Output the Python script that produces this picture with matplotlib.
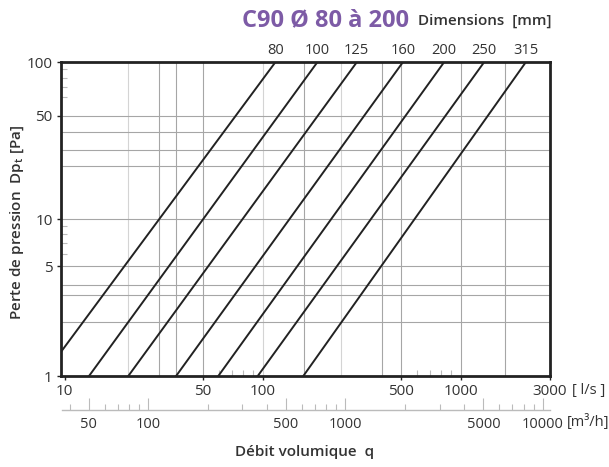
import matplotlib
matplotlib.use("Agg")
import matplotlib.pyplot as plt
import matplotlib.transforms as mtransforms

plt.rcParams['font.family'] = ['Open Sans', 'DejaVu Sans']

# diameters [mm] and flow [l/s] where each line reaches 1 Pa and 100 Pa
diameters = [80, 100, 125, 160, 200, 250, 315]
q_at_1pa = [7.8, 13.3, 21.0, 36.6, 59.8, 94.6, 160.7]
q_at_100pa = [116, 189, 299, 511, 825, 1314, 2134]
dp_ends = [1, 100]

# grid lines as drawn on the chart
vgrid_dark = [30, 36.7, 50, 162, 400, 500, 1000, 1680]
vgrid_light = [20.9, 100, 250]
hgrid = [2.22, 3.27, 3.81, 5, 10, 21.8, 27.8, 36.1, 45.5]

x_ticks = [10, 50, 100, 500, 1000, 2830]
x_labels = ['10', '50', '100', '500', '1000', '3000']
y_ticks = [1, 5, 10, 45.5, 100]
y_labels = ['1', '5', '10', '50', '100']

m3h_major = [50, 100, 500, 1000, 5000, 10000]
m3h_minor = [40, 60, 70, 80, 90, 200, 300, 400, 600, 700, 800, 900,
             2000, 3000, 4000, 6000, 7000, 8000, 9000]

W, H = 609, 467
fig = plt.figure(figsize=(W / 100, H / 100), dpi=100)
ax = fig.add_axes([61 / W, (H - 376) / H, 489 / W, 313.7 / H])
ax.set_xscale('log')
ax.set_yscale('log')
ax.set_xlim(9.6, 2830)
ax.set_ylim(1, 100)

for v in vgrid_dark:
    ax.axvline(v, color='#a6a6a6', lw=0.8, zorder=1)
for v in vgrid_light:
    ax.axvline(v, color='#d4d4d4', lw=0.8, zorder=1)
for v in hgrid:
    ax.axhline(v, color='#a6a6a6', lw=0.8, zorder=1)

trans = mtransforms.blended_transform_factory(ax.transData, ax.transAxes)
for d, q1, q2 in zip(diameters, q_at_1pa, q_at_100pa):
    ax.plot([q1, q2], dp_ends, color='#222222', lw=1.4, zorder=3)
    ax.text(q2, 1.038, str(d), transform=trans, ha='center', va='center',
            fontsize=10.5, color='#333333')

for s in ax.spines.values():
    s.set_linewidth(2)
    s.set_color('#222222')
    s.set_zorder(4)

ax.set_xticks(x_ticks)
ax.set_xticklabels(x_labels)
ax.set_yticks(y_ticks)
ax.set_yticklabels(y_labels)
ax.set_xticks([60, 70, 80, 90, 600, 700, 800, 900], minor=True)
ax.set_xticklabels([], minor=True)
ax.set_yticks([6, 7, 8, 9, 60, 70, 80, 90], minor=True)
ax.set_yticklabels([], minor=True)
ax.tick_params(which='major', direction='out', length=3, width=1,
               color='#222222', labelsize=11, labelcolor='#333333', pad=3)
ax.tick_params(which='minor', direction='in', length=4, width=0.8,
               color='#bbbbbb')
ax.text(1.045, -0.045, '[ l/s ]', transform=ax.transAxes, ha='left',
        va='center', fontsize=10.5, color='#333333')

# second scale in m3/h
ax2 = fig.add_axes([61.7 / W, (H - 410) / H, 488.3 / W, 0.001])
ax2.patch.set_visible(False)
ax2.set_xscale('log')
ax2.set_xlim(36.4, 10890)
ax2.set_yticks([])
for k in ['top', 'left', 'right']:
    ax2.spines[k].set_visible(False)
ax2.spines['bottom'].set_color('#bbbbbb')
ax2.spines['bottom'].set_linewidth(1)
ax2.set_xticks(m3h_major)
ax2.set_xticklabels([str(v) for v in m3h_major])
ax2.set_xticks(m3h_minor, minor=True)
ax2.set_xticklabels([], minor=True)
ax2.tick_params(which='major', direction='in', length=9, width=0.8,
                color='#bbbbbb', labelsize=10.5, labelcolor='#333333', pad=5)
ax2.tick_params(which='minor', direction='in', length=4, width=0.8,
                color='#bbbbbb')
fig.text(567 / W, (H - 422) / H, '[m³/h]', ha='left', va='center',
         fontsize=10.5, color='#333333')

fig.text(325 / W, (H - 20) / H, 'C90 Ø 80 à 200', ha='center', va='center',
         fontsize=17, fontweight='bold', color='#7d5ba6')
fig.text(418 / W, (H - 21) / H, 'Dimensions  [mm]', ha='left', va='center',
         fontsize=11, fontweight='semibold', color='#333333')
fig.text(17 / W, (H - 222) / H, r'Perte de pression  Dp$_\mathregular{t}$ [Pa]',
         rotation=90, ha='center', va='center', fontsize=11,
         fontweight='semibold', color='#333333')
fig.text(305 / W, (H - 452) / H, 'Débit volumique  q', ha='center',
         va='center', fontsize=11, fontweight='semibold', color='#333333')

fig.savefig('out.png', dpi=100)
